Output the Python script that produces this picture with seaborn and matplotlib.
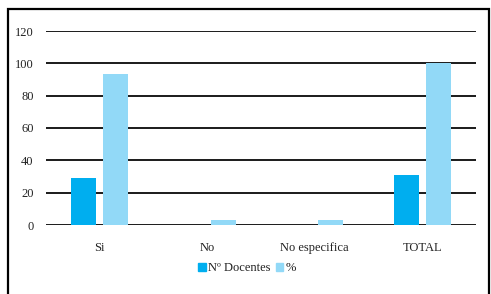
import matplotlib
matplotlib.use("Agg")
import matplotlib.pyplot as plt
import seaborn as sns
import pandas as pd
from matplotlib.patches import Rectangle

categories = ["Si", "No", "No especifica", "TOTAL"]
docentes = [29, 0, 0, 31]
porcentaje = [93.5, 3, 3, 100]
series_names = ["Nº Docentes", "%"]
yticks = [0, 20, 40, 60, 80, 100, 120]

df = pd.DataFrame({
    "cat": categories * 2,
    "val": docentes + porcentaje,
    "serie": [series_names[0]] * 4 + [series_names[1]] * 4,
})

sns.set_theme(style="white")
plt.rcParams["font.family"] = ["Liberation Serif", "DejaVu Serif"]

fig = plt.figure(figsize=(4.91, 2.94), dpi=100)
ax = fig.add_axes([46 / 491, 1 - 225 / 294, 430 / 491, 194 / 294])

palette = {series_names[0]: "#00aeef", series_names[1]: "#92d9f7"}
sns.barplot(data=df, x="cat", y="val", hue="serie", order=categories,
            hue_order=series_names, palette=palette, width=0.6, gap=0.22,
            saturation=1, ax=ax, legend=False, zorder=3, linewidth=0)

ax.set_ylim(0, 120)
ax.set_yticks(yticks)
ax.set_yticklabels([str(t) for t in yticks])
ax.yaxis.grid(True, color="#1a1a1a", linewidth=1.4, zorder=1)
ax.set_axisbelow(True)
for s in ax.spines.values():
    s.set_visible(False)
ax.tick_params(axis="both", length=0, labelsize=9, colors="#222222")
ax.tick_params(axis="y", pad=9)
ax.tick_params(axis="x", pad=12)
ax.set_xlabel("")
ax.set_ylabel("")
ax.set_xlim(-0.5, 3.5)

handles = [Rectangle((0, 0), 1, 1, color=palette[n]) for n in series_names]
fig.legend(handles, series_names, loc="center", bbox_to_anchor=(247 / 491, 1 - 268 / 294),
           ncol=2, frameon=False, fontsize=9, handlelength=0.6, handleheight=0.6,
           handletextpad=0.2, columnspacing=0.4, labelcolor="#222222")

border = Rectangle((7.5 / 491, -0.1), 481.5 / 491, 1.1 - 9.5 / 294, transform=fig.transFigure,
                   fill=False, edgecolor="black", linewidth=1.6, clip_on=False)
fig.patches.append(border)

fig.savefig("out.png", dpi=100)
